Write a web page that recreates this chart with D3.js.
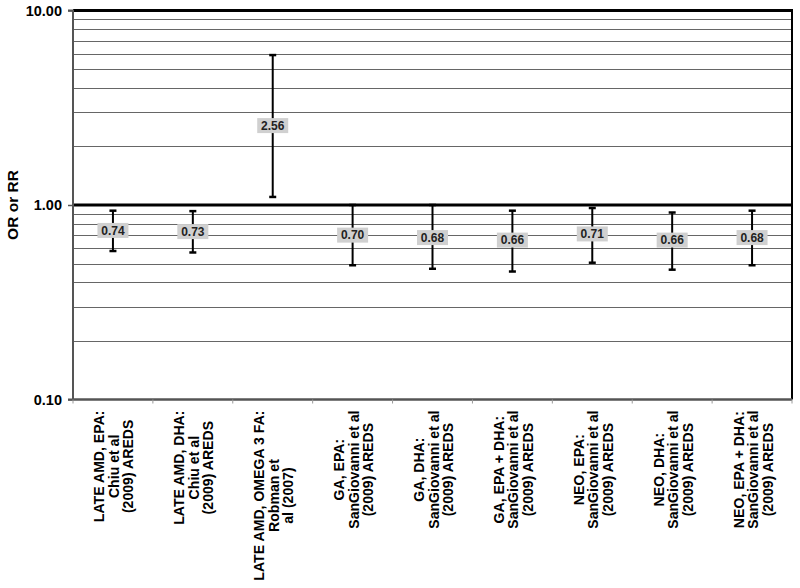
<!DOCTYPE html>
<html><head><meta charset="utf-8">
<script src="https://cdn.jsdelivr.net/npm/d3@7"></script>
<style>body{margin:0;background:#fff}svg{display:block;font-family:Arial,"Liberation Sans",sans-serif}</style>
</head><body><svg id="c" width="800" height="588"></svg>
<script>
const categories = [
  ["LATE AMD, EPA:", "Chiu et al", "(2009) AREDS"],
  ["LATE AMD, DHA:", "Chiu et al", "(2009) AREDS"],
  ["LATE AMD, OMEGA 3 FA:", "Robman et", "al (2007)"],
  ["GA, EPA:", "SanGiovanni et al", "(2009) AREDS"],
  ["GA, DHA:", "SanGiovanni et al", "(2009) AREDS"],
  ["GA, EPA + DHA:", "SanGiovanni et al", "(2009) AREDS"],
  ["NEO, EPA:", "SanGiovanni et al", "(2009) AREDS"],
  ["NEO, DHA:", "SanGiovanni et al", "(2009) AREDS"],
  ["NEO, EPA + DHA:", "SanGiovanni et al", "(2009) AREDS"]
];
const estimates = [0.74, 0.73, 2.56, 0.70, 0.68, 0.66, 0.71, 0.66, 0.68];
const lower = [0.58, 0.57, 1.10, 0.49, 0.47, 0.455, 0.505, 0.465, 0.49];
const upper = [0.935, 0.93, 5.9, 1.00, 1.00, 0.935, 0.965, 0.915, 0.935];
const yTicks = [0.1, 1, 10];
const yTitle = "OR or RR";

const svg = d3.select("#c");
const L = 73, R = 792, T = 10.5, B = 399.5;
const x = d3.scaleBand().domain(d3.range(categories.length)).range([L, R]);
const y = d3.scaleLog().domain([0.1, 10]).range([B, T]);

// minor gridlines
const grid = [];
[0.1, 1].forEach(d => { for (let k = 2; k <= 9; k++) grid.push(d * k); });
svg.append("g").selectAll("line").data(grid).join("line")
  .attr("x1", L).attr("x2", R).attr("y1", d => Math.round(y(d)) + 0.5).attr("y2", d => Math.round(y(d)) + 0.5)
  .attr("stroke", "#666").attr("stroke-width", 1);
// major lines
svg.append("g").selectAll("line").data([1, 10]).join("line")
  .attr("x1", L).attr("x2", R).attr("y1", d => y(d)).attr("y2", d => y(d))
  .attr("stroke", "#000").attr("stroke-width", 3);
// right border
svg.append("line").attr("x1", R).attr("x2", R).attr("y1", T - 1.5).attr("y2", B)
  .attr("stroke", "#000").attr("stroke-width", 2);

// y axis
const yAxis = d3.axisLeft(y).tickValues(yTicks).tickFormat(d3.format(".2f")).tickSize(5).tickPadding(6);
const gy = svg.append("g").attr("transform", `translate(${L},0)`).call(yAxis);
gy.select(".domain").attr("stroke", "#555").attr("stroke-width", 2).attr("d", `M-5,${T}H0V${B}H-5`);
gy.selectAll(".tick line").attr("stroke", "#555").attr("stroke-width", 1.5);
gy.selectAll(".tick text").attr("font-size", 14.5).attr("font-weight", "bold").attr("fill", "#000")
  .attr("font-family", "Arial, 'Liberation Sans', sans-serif");

// x axis
const gx = svg.append("g").attr("transform", `translate(0,${B})`);
gx.append("line").attr("x1", L).attr("x2", R).attr("stroke", "#555").attr("stroke-width", 2.5);
gx.selectAll(".xt").data(d3.range(categories.length + 1)).join("line").attr("class", "xt")
  .attr("x1", i => L + i * x.step()).attr("x2", i => L + i * x.step()).attr("y1", 0).attr("y2", 4)
  .attr("stroke", "#999").attr("stroke-width", 1);

// category labels
const labTop = 410.5;
categories.forEach((lines, i) => {
  const cx = x(i) + x.bandwidth() / 2 + 1;
  const g = svg.append("g");
  const t = g.append("text").attr("font-size", 14.1).attr("font-weight", "bold").attr("text-anchor", "middle").attr("fill", "#000");
  lines.forEach((ln, j) => t.append("tspan").attr("x", 0).attr("y", (j - (lines.length - 1) / 2) * 14.5 + 5).text(ln));
  let maxW = 0;
  t.selectAll("tspan").each(function(){ maxW = Math.max(maxW, this.getComputedTextLength()); });
  g.attr("transform", `translate(${cx},${labTop + maxW / 2}) rotate(-90)`);
});

// y title
svg.append("text").attr("transform", `translate(18,${(T + B) / 2}) rotate(-90)`)
  .attr("text-anchor", "middle").attr("font-size", 15.5).attr("font-weight", "bold").text(yTitle);

// error bars
const eb = svg.append("g");
estimates.forEach((v, i) => {
  const cx = x(i) + x.bandwidth() / 2;
  eb.append("line").attr("x1", cx).attr("x2", cx).attr("y1", y(lower[i])).attr("y2", y(upper[i]))
    .attr("stroke", "#000").attr("stroke-width", 2);
  [lower[i], upper[i]].forEach(w => eb.append("line").attr("x1", cx - 3.5).attr("x2", cx + 3.5)
    .attr("y1", y(w)).attr("y2", y(w)).attr("stroke", "#000").attr("stroke-width", 2.5));
  const lbl = d3.format(".2f")(v);
  const gl = eb.append("g").attr("transform", `translate(${cx},${y(v)})`);
  gl.append("rect").attr("x", -15.5).attr("y", -7.5).attr("width", 31).attr("height", 15).attr("fill", "#d0d0d0");
  gl.append("text").attr("text-anchor", "middle").attr("dy", "0.36em").attr("font-size", 12)
    .attr("font-weight", "bold").attr("fill", "#222").text(lbl);
});
</script></body></html>
